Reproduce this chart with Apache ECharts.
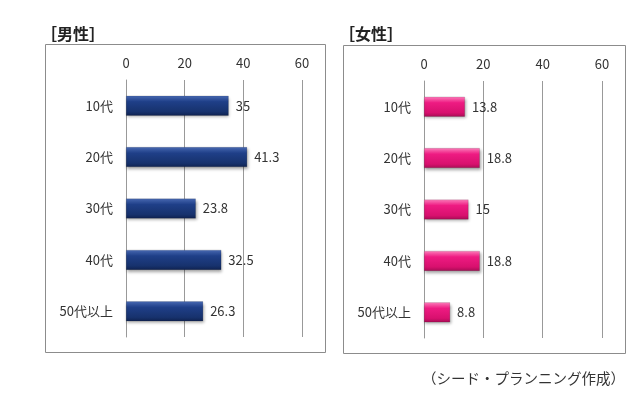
<!DOCTYPE html>
<html><head><meta charset="utf-8">
<script src="https://cdn.jsdelivr.net/npm/echarts@6/dist/echarts.min.js"></script>
<style>html,body{margin:0;padding:0;background:#fff}#c{width:641px;height:394px}</style>
</head><body><div id="c"></div>
<script>
const categories = ['10代', '20代', '30代', '40代', '50代以上'];
const maleValues = [35, 41.3, 23.8, 32.5, 26.3];
const femaleValues = [13.8, 18.8, 15, 18.8, 8.8];
const axisTicks = [0, 20, 40, 60];
const panelTitles = ['［男性］', '［女性］'];
const sourceNote = '（シード・プランニング作成）';

const FONT = '"Noto Sans CJK JP", "Noto Sans", sans-serif';
const navy = new echarts.graphic.LinearGradient(0, 0, 0, 1, [
  {offset: 0, color: '#4a6bb5'}, {offset: 0.3, color: '#1f3f88'},
  {offset: 0.8, color: '#17326d'}, {offset: 1, color: '#0f2250'}]);
const pink = new echarts.graphic.LinearGradient(0, 0, 0, 1, [
  {offset: 0, color: '#ff7fbd'}, {offset: 0.3, color: '#ee1b82'},
  {offset: 0.8, color: '#d8106e'}, {offset: 1, color: '#a80c55'}]);

function xAxis(idx) {
  return {
    gridIndex: idx, type: 'value', position: 'top', min: 0, max: 60, interval: 20,
    axisLine: {show: false}, axisTick: {show: false},
    axisLabel: {margin: 10, color: '#333', fontSize: 13, fontFamily: FONT},
    splitLine: {lineStyle: {color: '#999', width: 1}}
  };
}
function yAxis(idx) {
  return {
    gridIndex: idx, type: 'category', data: categories, inverse: true,
    axisLine: {lineStyle: {color: '#999'}},
    axisTick: {length: 4, lineStyle: {color: '#999'}},
    axisLabel: {margin: 13, color: '#333', fontSize: 13, fontFamily: FONT}
  };
}
function barSeries(idx, values, color) {
  return {
    type: 'bar', xAxisIndex: idx, yAxisIndex: idx, data: values, barWidth: 20,
    itemStyle: {color: color, borderColor: 'rgba(0,0,0,0.25)', borderWidth: 0.5,
      shadowBlur: 3, shadowColor: 'rgba(0,0,0,0.35)', shadowOffsetX: 1, shadowOffsetY: 2},
    label: {show: true, position: 'right', distance: 7, color: '#333', fontSize: 13, fontFamily: FONT}
  };
}

const chart = echarts.init(document.getElementById('c'), null, {renderer: 'canvas'});
chart.setOption({
  backgroundColor: '#fff',
  animation: false,
  title: [
    {text: panelTitles[0], left: 36, top: 21, textStyle: {fontSize: 16, fontWeight: 'bold', color: '#222', fontFamily: FONT}},
    {text: panelTitles[1], left: 334, top: 21, textStyle: {fontSize: 16, fontWeight: 'bold', color: '#222', fontFamily: FONT}},
    {text: sourceNote, right: 11, top: 366, textStyle: {fontSize: 14.5, fontWeight: 'normal', color: '#333', fontFamily: FONT}}
  ],
  graphic: [
    {type: 'rect', shape: {x: 45.5, y: 44.5, width: 280, height: 308}, style: {fill: 'none', stroke: '#8c8c8c', lineWidth: 1}, z: -1},
    {type: 'rect', shape: {x: 343.5, y: 45.5, width: 282, height: 308}, style: {fill: 'none', stroke: '#8c8c8c', lineWidth: 1}, z: -1}
  ],
  grid: [
    {left: 126, top: 80, width: 176, height: 257},
    {left: 424, top: 81, width: 178, height: 257}
  ],
  xAxis: [xAxis(0), xAxis(1)],
  yAxis: [yAxis(0), yAxis(1)],
  series: [barSeries(0, maleValues, navy), barSeries(1, femaleValues, pink)]
});
</script></body></html>
